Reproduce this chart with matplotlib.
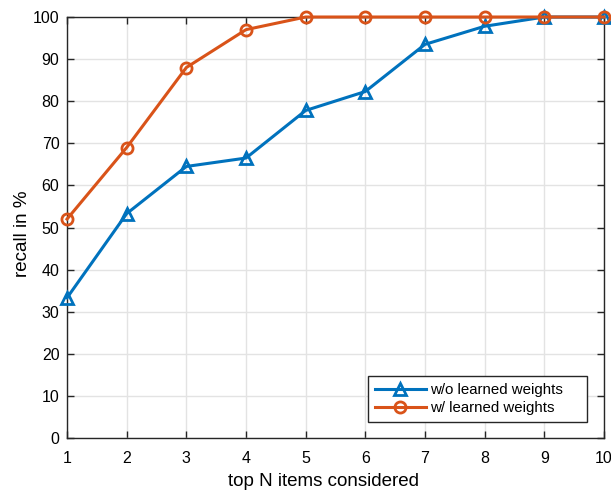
import numpy as np
import matplotlib
matplotlib.use("Agg")
import matplotlib.pyplot as plt

plt.rcParams["font.family"] = ["Liberation Sans", "DejaVu Sans"]

# data
top_n = [1, 2, 3, 4, 5, 6, 7, 8, 9, 10]
recall_without = [33.3, 53.3, 64.5, 66.5, 77.8, 82.3, 93.5, 97.8, 100, 100]
recall_with = [52, 69, 88, 97, 100, 100, 100, 100, 100, 100]

fig = plt.figure(figsize=(6.11, 4.9), dpi=100)
ax = fig.add_axes([0.1097, 0.1061, 0.8788, 0.8592])

ax.plot(top_n, recall_without, color="#0072BD", lw=2.2, marker="^", ms=9,
        mfc="none", mew=2, label="w/o learned weights", clip_on=False, zorder=3)
ax.plot(top_n, recall_with, color="#D95319", lw=2.2, marker="o", ms=8,
        mfc="none", mew=2, label="w/ learned weights", clip_on=False, zorder=3)

ax.set_xlim(1, 10)
ax.set_ylim(0, 100)
ax.set_xticks(top_n)
ax.set_yticks(np.arange(0, 101, 10))
ax.grid(True, color="#e3e3e3", lw=1)
ax.set_axisbelow(True)
ax.tick_params(direction="in", top=True, right=True, labelsize=11.5, length=5,
               width=1, color="#262626", labelcolor="#000000")
ax.tick_params(axis="x", pad=9)
ax.tick_params(axis="y", pad=5.5)
for s in ax.spines.values():
    s.set_color("#262626")
    s.set_linewidth(1)

ax.set_xlabel("top N items considered", fontsize=13.5)
ax.set_ylabel("recall in %", fontsize=13.5)
ax.xaxis.set_label_coords(0.477, -0.082)
ax.yaxis.set_label_coords(-0.067, 0.486)

leg = ax.legend(loc="lower left", bbox_to_anchor=(0.5605, 0.038, 0.4078, 0.1045),
                mode="expand", borderaxespad=0, fontsize=10.8,
                fancybox=False, edgecolor="#262626", framealpha=1,
                handlelength=3.4, borderpad=0.45, labelspacing=0.3,
                handletextpad=0.3)
leg.get_frame().set_linewidth(1)

fig.savefig("out.png", dpi=100)
